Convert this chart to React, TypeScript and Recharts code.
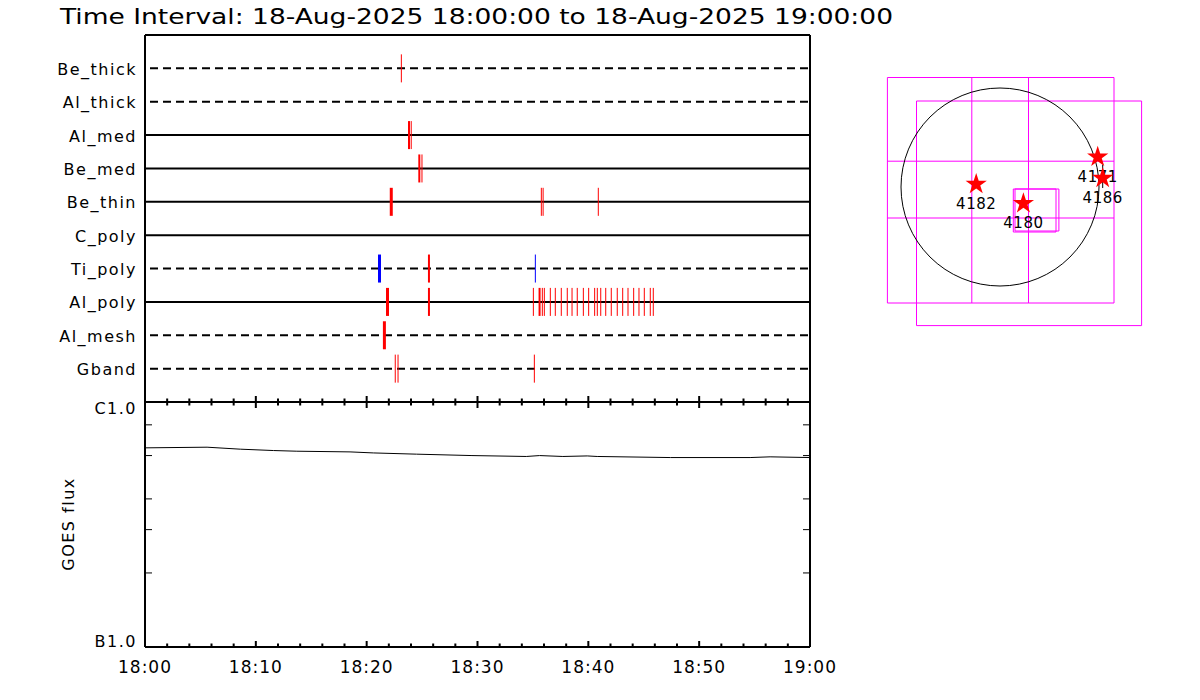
import React from 'react';
import {
  ComposedChart,
  XAxis,
  YAxis,
  ReferenceLine,
  ReferenceArea,
  ReferenceDot,
  Line,
  Scatter,
  Symbols,
  Label,
} from 'recharts';

const FONT = '"DejaVu Sans", "Liberation Sans", sans-serif';

const TITLE = 'Time Interval: 18-Aug-2025 18:00:00 to 18-Aug-2025 19:00:00';

// time axis (minutes after 18:00)
const timeTicks = [0, 2, 4, 6, 8, 10, 12, 14, 16, 18, 20, 22, 24, 26, 28, 30, 32, 34, 36, 38, 40, 42, 44, 46, 48, 50, 52, 54, 56, 58, 60];
const timeLabelValues = [0, 10, 20, 30, 40, 50, 60];
const timeLabels = ['18:00', '18:10', '18:20', '18:30', '18:40', '18:50', '19:00'];

// attenuator / filter channels
const channels = ['Be_thick', 'Al_thick', 'Al_med', 'Be_med', 'Be_thin', 'C_poly', 'Ti_poly', 'Al_poly', 'Al_mesh', 'Gband'];
const channelRows = [10, 9, 8, 7, 6, 5, 4, 3, 2, 1];
const channelSolid = [false, false, true, true, true, true, false, true, false, false];

// detections: [channel, minute after 18:00, multiplicity]
const redDetections: [string, number, number][] = [
  ['Be_thick', 23.13, 1],
  ['Al_med', 23.82, 2], ['Al_med', 24.02, 1],
  ['Be_med', 24.75, 2], ['Be_med', 24.99, 1],
  ['Be_thin', 22.22, 3], ['Be_thin', 35.76, 1], ['Be_thin', 35.92, 1], ['Be_thin', 40.9, 1],
  ['Ti_poly', 25.62, 2],
  ['Al_poly', 21.88, 3], ['Al_poly', 25.62, 2],
  ['Al_poly', 35.04, 1], ['Al_poly', 35.6, 2], ['Al_poly', 35.85, 1], ['Al_poly', 36.03, 1],
  ['Al_poly', 36.57, 1], ['Al_poly', 37.02, 1], ['Al_poly', 37.56, 1], ['Al_poly', 38.1, 1],
  ['Al_poly', 38.53, 1], ['Al_poly', 39.0, 1], ['Al_poly', 39.55, 1], ['Al_poly', 40.03, 1],
  ['Al_poly', 40.57, 1], ['Al_poly', 40.81, 1], ['Al_poly', 41.12, 1], ['Al_poly', 41.57, 1],
  ['Al_poly', 42.07, 1], ['Al_poly', 42.61, 1], ['Al_poly', 43.1, 1], ['Al_poly', 43.58, 1],
  ['Al_poly', 44.09, 1], ['Al_poly', 44.57, 1], ['Al_poly', 45.05, 1], ['Al_poly', 45.59, 1],
  ['Al_poly', 45.86, 1],
  ['Al_mesh', 21.6, 3],
  ['Gband', 22.58, 1], ['Gband', 22.83, 1], ['Gband', 35.13, 1],
];
const blueDetections: [string, number, number][] = [
  ['Ti_poly', 21.16, 3],
  ['Ti_poly', 35.22, 1],
];

// GOES flux (W/m^2)
const goesMinutes = [0, 5.6, 8.6, 11.6, 13.7, 18.5, 20.6, 24.5, 29.5, 34.4, 35.6, 37.7, 39.9, 40.8, 47.4, 54.6, 56.4, 60];
const goesFlux = [6.45e-7, 6.49e-7, 6.37e-7, 6.29e-7, 6.25e-7, 6.21e-7, 6.15e-7, 6.08e-7, 6.0e-7, 5.95e-7, 6.0e-7, 5.95e-7, 5.98e-7, 5.95e-7, 5.89e-7, 5.89e-7, 5.93e-7, 5.89e-7];
const goesTicks = [1e-7, 2e-7, 3e-7, 4e-7, 5e-7, 6e-7, 7e-7, 8e-7, 9e-7, 1e-6];
const goesTickLabelValues = [1e-7, 1e-6];
const goesTickLabels = ['B1.0', 'C1.0'];

// solar map (arcsec)
const fovBoxX1 = [-1126, -835, 133, 150];
const fovBoxX2 = [1140, 1416, 560, 589];
const fovBoxY1 = [-1160, -1386, -450, -440];
const fovBoxY2 = [1095, 860, -20, -20];
const gridXs = [-282, 285];
const gridYs = [258, -310];
const arNames = ['4182', '4180', '4171', '4186'];
const arX = [-238, 234, 977, 1027];
const arY = [28, -164, 301, 89];
const pointerX = 1027;
const pointerY1 = 224;
const pointerY2 = -10;

const goesData = goesMinutes.map((t, i) => ({ t, flux: goesFlux[i] }));
const starData = arNames.map((name, i) => ({ x: arX[i], y: arY[i], name }));

const W = 1200;
const H = 700;

const rowOf = (ch: string) => channelRows[channels.indexOf(ch)];
const near = (a: number, b: number) => Math.abs(a - b) < Math.abs(b) * 1e-6;

// tick renderers (positions come from the axes)
const TopEdgeTick = (p: any) => {
  const major = p.payload.value % 10 === 0;
  return <line x1={p.x} x2={p.x} y1={p.y} y2={p.y + (major ? 7 : 4)} stroke="#000" strokeWidth={2} />;
};
// shared border between the panels: ticks point into both panels
const MiddleEdgeTick = (p: any) => {
  const major = p.payload.value % 10 === 0;
  const h = major ? 6 : 3.5;
  return <line x1={p.x} x2={p.x} y1={p.y - h} y2={p.y + h} stroke="#000" strokeWidth={2} />;
};
const BottomAxisTick = (p: any) => {
  const v = p.payload.value;
  const major = v % 10 === 0;
  const li = timeLabelValues.indexOf(v);
  return (
    <g>
      <line x1={p.x} x2={p.x} y1={p.y} y2={p.y - (major ? 6 : 3.5)} stroke="#000" strokeWidth={2} />
      {li >= 0 && (
        <text x={p.x} y={p.y + 20} textAnchor="middle" dominantBaseline="central" fontFamily={FONT} fontSize={17} letterSpacing={1} fill="#000">
          {timeLabels[li]}
        </text>
      )}
    </g>
  );
};
const RowTick = (p: any) => {
  const idx = channelRows.indexOf(p.payload.value);
  if (idx < 0) return <g />;
  return (
    <text x={p.x - 8} y={p.y + 1} textAnchor="end" dominantBaseline="central" fontFamily={FONT} fontSize={16} letterSpacing={1.5} fill="#000">
      {channels[idx]}
    </text>
  );
};
const GoesLeftTick = (p: any) => {
  const v = p.payload.value;
  const li = goesTickLabelValues.findIndex((lv) => near(v, lv));
  return (
    <g>
      {li < 0 && <line x1={p.x} x2={p.x + 7} y1={p.y} y2={p.y} stroke="#000" strokeWidth={1} />}
      {li >= 0 && (
        <text x={p.x - 8} y={li === 1 ? p.y + 7 : p.y - 6} textAnchor="end" dominantBaseline="central" fontFamily={FONT} fontSize={16} letterSpacing={1.5} fill="#000">
          {goesTickLabels[li]}
        </text>
      )}
    </g>
  );
};
const GoesRightTick = (p: any) => {
  const v = p.payload.value;
  const li = goesTickLabelValues.findIndex((lv) => near(v, lv));
  return li >= 0 ? <g /> : <line x1={p.x} x2={p.x - 7} y1={p.y} y2={p.y} stroke="#000" strokeWidth={1} />;
};

const StarShape = (p: any) => (
  <g>
    <Symbols cx={p.cx} cy={p.cy} type="star" size={140} fill="#ff0000" stroke="none" />
    <text x={p.cx} y={p.cy + 20} textAnchor="middle" dominantBaseline="central" fontFamily={FONT} fontSize={15} letterSpacing={0.5} fill="#000">
      {p.payload.name}
    </text>
  </g>
);

const abs: React.CSSProperties = { position: 'absolute', left: 0, top: 0 };
const frame = { stroke: '#000', strokeWidth: 2 };

export default function App() {
  return (
    <div style={{ position: 'absolute', left: 0, top: 0, width: W, height: H, background: '#fff', overflow: 'hidden' }}>
      {/* Title */}
      <svg style={abs} width={W} height={40}>
        <text x={60} y={24} fontFamily={FONT} fontSize={21} textLength={833} lengthAdjust="spacingAndGlyphs" fill="#000">
          {TITLE}
        </text>
      </svg>

      {/* Bottom panel: GOES flux */}
      <div style={abs}>
        <ComposedChart width={W} height={H} data={goesData} margin={{ left: 144, right: 389, top: 401, bottom: 52 }}>
          <XAxis xAxisId="b" type="number" dataKey="t" domain={[0, 60]} allowDataOverflow ticks={timeTicks} height={1} tickSize={0} tickMargin={0} tickLine={false} tick={BottomAxisTick} axisLine={frame} />
          <YAxis yAxisId="l" type="number" scale="log" dataKey="flux" domain={[1e-7, 1e-6]} allowDataOverflow ticks={goesTicks} width={1} tickSize={0} tickMargin={0} tickLine={false} tick={GoesLeftTick} axisLine={frame}>
            <Label
              content={(props: any) => {
                const vb = props.viewBox || { x: 144, y: 402, width: 1, height: 245 };
                const cx = vb.x + (vb.width || 0) - 77;
                const cy = vb.y + vb.height / 2;
                return (
                  <text transform={`translate(${cx}, ${cy}) rotate(-90)`} textAnchor="middle" dominantBaseline="central" fontFamily={FONT} fontSize={16} letterSpacing={1.5} fill="#000">
                    GOES flux
                  </text>
                );
              }}
            />
          </YAxis>
          <YAxis yAxisId="r" orientation="right" type="number" scale="log" dataKey="flux" domain={[1e-7, 1e-6]} allowDataOverflow ticks={goesTicks} width={1} tickSize={0} tickMargin={0} tickLine={false} tick={GoesRightTick} axisLine={frame} />
          <Line xAxisId="b" yAxisId="l" dataKey="flux" type="linear" stroke="#000" strokeWidth={1} dot={false} isAnimationActive={false} />
          <Line xAxisId="b" yAxisId="r" dataKey="flux" type="linear" stroke="none" strokeWidth={0} dot={false} activeDot={false} legendType="none" isAnimationActive={false} />
        </ComposedChart>
      </div>

      {/* Top panel: detections per channel */}
      <div style={abs}>
        <ComposedChart width={W} height={H} margin={{ left: 144, right: 389, top: 34, bottom: 297 }}>
          <XAxis xAxisId="b" type="number" dataKey="t" domain={[0, 60]} allowDataOverflow ticks={timeTicks} height={1} tickSize={0} tickMargin={0} tickLine={false} tick={MiddleEdgeTick} axisLine={frame} />
          <XAxis xAxisId="t" orientation="top" type="number" domain={[0, 60]} allowDataOverflow ticks={timeTicks} height={1} tickSize={0} tickMargin={0} tickLine={false} tick={TopEdgeTick} axisLine={frame} />
          <YAxis yAxisId="l" type="number" domain={[0, 11]} allowDataOverflow ticks={channelRows} width={1} tickSize={0} tickMargin={0} tickLine={false} tick={RowTick} axisLine={frame} />
          <YAxis yAxisId="r" orientation="right" type="number" domain={[0, 11]} allowDataOverflow width={1} tick={false} tickLine={false} axisLine={frame} />
          {channels.map((ch, i) => (
            <ReferenceLine
              key={ch}
              xAxisId="b"
              yAxisId="l"
              y={channelRows[i]}
              stroke="#000"
              strokeWidth={2}
              strokeDasharray={channelSolid[i] ? undefined : '8 5'}
              strokeDashoffset={channelSolid[i] ? undefined : -5}
            />
          ))}
          {redDetections.map(([ch, t, m], i) => (
            <ReferenceLine
              key={'r' + i}
              xAxisId="b"
              yAxisId="l"
              segment={[{ x: t, y: rowOf(ch) - 0.42 }, { x: t, y: rowOf(ch) + 0.42 }]}
              stroke="#ff0000"
              strokeWidth={m}
            />
          ))}
          {blueDetections.map(([ch, t, m], i) => (
            <ReferenceLine
              key={'b' + i}
              xAxisId="b"
              yAxisId="l"
              segment={[{ x: t, y: rowOf(ch) - 0.42 }, { x: t, y: rowOf(ch) + 0.42 }]}
              stroke="#0000ff"
              strokeWidth={m}
            />
          ))}
        </ComposedChart>
      </div>

      {/* Solar map */}
      <div style={abs}>
        <ComposedChart width={W} height={H} margin={{ left: 860, right: 40, top: 37, bottom: 363 }}>
          <XAxis type="number" dataKey="x" domain={[-1400, 1600]} allowDataOverflow hide />
          <YAxis type="number" dataKey="y" domain={[-1500, 1500]} allowDataOverflow hide />
          <ReferenceDot x={0} y={0} r={99} fill="none" stroke="#000" strokeWidth={1} />
          {fovBoxX1.map((x1, i) => (
            <ReferenceArea key={'box' + i} x1={x1} x2={fovBoxX2[i]} y1={fovBoxY1[i]} y2={fovBoxY2[i]} fill="none" fillOpacity={0} stroke="#ff00ff" strokeWidth={1} strokeOpacity={1} />
          ))}
          {gridXs.map((gx, i) => (
            <ReferenceLine key={'gx' + i} segment={[{ x: gx, y: fovBoxY1[0] }, { x: gx, y: fovBoxY2[0] }]} stroke="#ff00ff" strokeWidth={1} />
          ))}
          {gridYs.map((gy, i) => (
            <ReferenceLine key={'gy' + i} segment={[{ x: fovBoxX1[0], y: gy }, { x: fovBoxX2[0], y: gy }]} stroke="#ff00ff" strokeWidth={1} />
          ))}
          <ReferenceLine segment={[{ x: pointerX, y: pointerY1 }, { x: pointerX, y: pointerY2 }]} stroke="#000" strokeWidth={1} />
          <Scatter data={starData} dataKey="y" shape={StarShape} isAnimationActive={false} />
        </ComposedChart>
      </div>
    </div>
  );
}
